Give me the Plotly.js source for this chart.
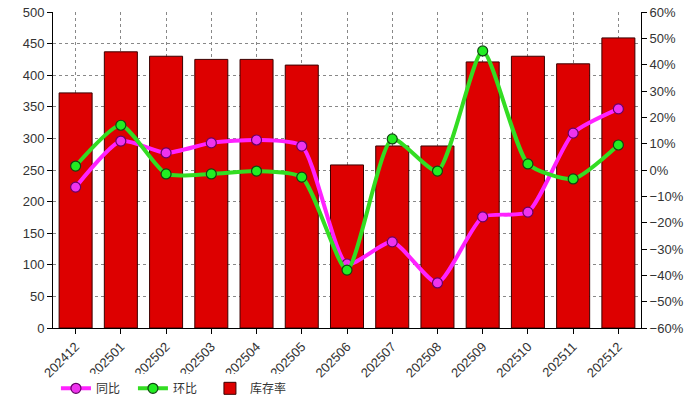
<!DOCTYPE html>
<html>
<head>
<meta charset="utf-8">
<script src="https://cdn.plot.ly/plotly-3.0.1.min.js"></script>
<style>html,body{margin:0;padding:0;background:#fff;}#chart{width:692px;height:399px;}</style>
</head>
<body>
<div id="chart"></div>
<script>
var months = ["202412","202501","202502","202503","202504","202505","202506","202507","202508","202509","202510","202511","202512"];
var inventory = [372, 437, 430, 425, 425, 416, 258, 288, 288, 421, 430, 418, 459];
var yoy = [-6.5, 11.0, 6.5, 10.3, 11.4, 9.1, -35.7, -27.3, -42.9, -17.8, -16.0, 14.0, 23.2];
var mom = [1.5, 17.0, -1.5, -1.5, -0.4, -2.7, -38.0, 11.8, -0.4, 45.2, 2.3, -3.4, 9.5];

var font = {family: "Liberation Sans, Arial, sans-serif", size: 13, color: "#333"};

var traces = [
  {
    type: "scatter", mode: "lines+markers", name: "同比", x: months, y: yoy.map(function(v){return v/100;}),
    yaxis: "y2", line: {color: "#ff22ff", width: 4, shape: "spline", smoothing: 0.6},
    marker: {color: "#ee33ee", size: 10, line: {color: "#660066", width: 1.2}}
  },
  {
    type: "scatter", mode: "lines+markers", name: "环比", x: months, y: mom.map(function(v){return v/100;}),
    yaxis: "y2", line: {color: "#33dd22", width: 4, shape: "spline", smoothing: 0.6},
    marker: {color: "#22ee22", size: 10, line: {color: "#114411", width: 1.2}}
  },
  {
    type: "bar", name: "库存率", x: months, y: inventory,
    marker: {color: "#dd0000", line: {color: "#3a0000", width: 1}},
    width: 0.73, yaxis: "y"
  }
];

var layout = {
  width: 692, height: 399,
  margin: {l: 53, r: 51, t: 12, b: 71, autoexpand: false},
  paper_bgcolor: "#fff", plot_bgcolor: "#fff",
  font: font,
  showlegend: true,
  legend: {orientation: "h", x: 0.005, y: -0.145, xanchor: "left", yanchor: "top",
    traceorder: "normal", entrywidth: 32, entrywidthmode: "pixels",
    font: {family: "Noto Sans CJK SC", size: 12, color: "#333"}},
  xaxis: {
    type: "category", range: [-0.5, months.length - 0.5], tickangle: -45,
    showline: true, linecolor: "#000", linewidth: 1,
    ticks: "outside", ticklen: 5, tickcolor: "#000", automargin: false,
    showgrid: true, gridcolor: "#888", griddash: "dot", gridwidth: 1,
    mirror: false, tickfont: font
  },
  yaxis: {
    range: [0, 500], dtick: 50, showline: true, linecolor: "#000", linewidth: 1,
    ticks: "outside", ticklen: 5, tickcolor: "#000", automargin: false,
    showgrid: true, gridcolor: "#888", griddash: "dot", gridwidth: 1,
    zeroline: false, tickfont: font
  },
  yaxis2: {
    overlaying: "y", side: "right", range: [-0.6, 0.6], dtick: 0.1, tickformat: ".0%",
    showline: true, linecolor: "#000", linewidth: 1, automargin: false,
    ticks: "outside", ticklen: 5, tickcolor: "#000",
    showgrid: false, zeroline: false, tickfont: font
  }
};

Plotly.newPlot("chart", traces, layout, {displayModeBar: false, staticPlot: true});
</script>
</body>
</html>
